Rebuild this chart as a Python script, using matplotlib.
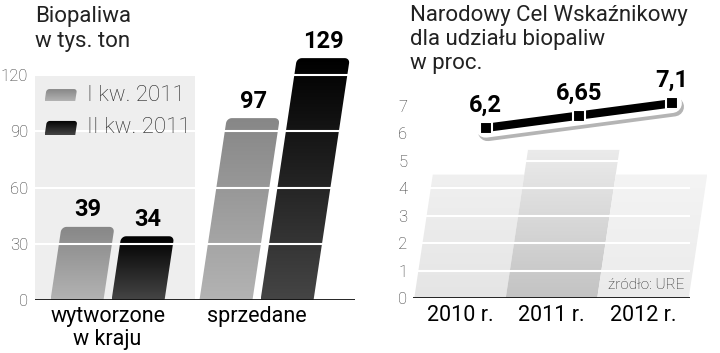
import numpy as np
import matplotlib
matplotlib.use('Agg')
import matplotlib.pyplot as plt
from matplotlib.patches import Polygon, Rectangle
from matplotlib.colors import LinearSegmentedColormap
from matplotlib import patheffects as pe
from matplotlib import font_manager

# dane - lewy wykres (tys. ton)
kategorie = ['wytworzone\nw kraju', 'sprzedane']
serie = ['I kw. 2011', 'II kw. 2011']
kw1 = [39, 97]
kw2 = [34, 129]
yt_lewy = [0, 30, 60, 90, 120]

# dane - prawy wykres (proc.)
lata = ['2010 r.', '2011 r.', '2012 r.']
ncw = [6.2, 6.65, 7.1]
ncw_etyk = ['6,2', '6,65', '7,1']
tlo = [4.5, 5.4, 4.5]
yt_prawy = [0, 1, 2, 3, 4, 5, 6, 7]

# czcionki
nazwy = {f.name for f in font_manager.fontManager.ttflist}
TXT = 'Roboto' if 'Roboto' in nazwy else 'DejaVu Sans'
BOLD = dict(family=TXT, fontweight='bold', fontsize=17)

W, H = 720, 353
fig = plt.figure(figsize=(W / 100, H / 100), dpi=100)

# pozycje osi w pikselach
axL = fig.add_axes([35 / W, 53 / H, 320 / W, 260 / H])
axR = fig.add_axes([413 / W, 55 / H, 277 / W, 258 / H])

xlimL = (-0.487, 1.661)
ylimL = (0, 260 / 1.875)
xlimR = (-0.514, 2.514)
ylimR = (0, 258 / 27.43)

# pochylenie: 0.15 px w poziomie na 1 px w pionie
sxL = 0.15 * (260 / ylimL[1]) / (320 / (xlimL[1] - xlimL[0]))
sxR = 0.15 * (258 / ylimR[1]) / (277 / (xlimR[1] - xlimR[0]))


def ksztalt(x0, w, h, sx, rx, ry, y0=0.0):
    t = np.linspace(np.pi, np.pi / 2, 8)
    pts = [(x0, y0)]
    for a in t:
        pts.append((x0 + rx + rx * np.cos(a), y0 + h - ry + ry * np.sin(a)))
    t = np.linspace(np.pi / 2, 0, 8)
    for a in t:
        pts.append((x0 + w - rx + rx * np.cos(a), y0 + h - ry + ry * np.sin(a)))
    pts.append((x0 + w, y0))
    pts = np.array(pts)
    pts[:, 0] += sx * (pts[:, 1] - y0)
    return pts


def wypelnij(ax, verts, c_gora, c_dol, z):
    poly = Polygon(verts, closed=True, facecolor='none', edgecolor='none')
    ax.add_patch(poly)
    grad = np.linspace(0, 1, 256).reshape(-1, 1)
    cmap = LinearSegmentedColormap.from_list('g', [c_gora, c_dol])
    im = ax.imshow(grad, cmap=cmap, aspect='auto', origin='upper',
                   extent=[verts[:, 0].min(), verts[:, 0].max(),
                           verts[:, 1].min(), verts[:, 1].max()],
                   zorder=z, interpolation='bilinear')
    im.set_clip_path(poly)
    im.set_clip_box(fig.bbox)


# ---------- lewy wykres ----------
axL.add_patch(Rectangle((xlimL[0], 0), 0.587 - xlimL[0], 120,
                        facecolor='#eeeeee', edgecolor='none', zorder=0))

szer = 53 / 149
odst = 0.205
rxL, ryL = 5 / 149, 5 / 1.875
kolory = [('#878787', '#b3b3b3'), ('#000000', '#454545')]
for s, wart in enumerate([kw1, kw2]):
    for i, v in enumerate(wart):
        xc = i + (odst if s else -odst)
        v_ = ksztalt(xc - szer / 2, szer, v, sxL, rxL, ryL)
        wypelnij(axL, v_, kolory[s][0], kolory[s][1], 2)
        axL.annotate(str(v), (xc + sxL * v, v), xytext=(0, 7.5),
                     textcoords='offset points', ha='center', va='baseline',
                     color='black', zorder=6, **BOLD)

for v in yt_lewy[1:]:
    axL.axhline(v, color='white', lw=1.5, zorder=3)
axL.axhline(0, color='#111111', lw=2, zorder=4)

# legenda
leg_y = [106.1, 88.0]
leg_h = [6.4, 7.5]
for s in range(2):
    v_ = ksztalt(-0.422, 0.205, leg_h[s], sxL, 3 / 149, 3 / 1.875, y0=leg_y[s])
    wypelnij(axL, v_, kolory[s][0], kolory[s][1], 5)
    axL.text(-0.138, leg_y[s] + leg_h[s] / 2, serie[s], fontsize=16,
             family=TXT, fontweight='light', color='#222222',
             va='center', ha='left', zorder=6)

axL.set_xlim(*xlimL)
axL.set_ylim(*ylimL)
axL.set_yticks(yt_lewy)
axL.set_yticklabels([str(v) for v in yt_lewy], family=TXT, fontweight='light')
axL.set_xticks(range(len(kategorie)))
axL.set_xticklabels(kategorie, family=TXT, fontsize=15.5, linespacing=1.15)
axL.tick_params(axis='y', length=0, pad=5, labelsize=12, labelcolor='#333333')
axL.tick_params(axis='x', length=0, pad=4, colors='black')
for sp in axL.spines.values():
    sp.set_visible(False)

# ---------- prawy wykres ----------
kol_tla = [('#f0f0f0', '#e5e5e5'), ('#ebebeb', '#c3c3c3'), ('#f4f4f4', '#ebebeb')]
for i, h in enumerate(tlo):
    v_ = ksztalt(i - 0.5, 1.0, h, sxR, 0, 0)
    wypelnij(axR, v_, kol_tla[i][0], kol_tla[i][1], 1)

for v in yt_prawy[1:6]:
    axR.axhline(v, color='white', lw=1.5, zorder=3)
axR.axhline(0, color='#111111', lw=2, zorder=4)

xs = [i + sxR * v for i, v in enumerate(ncw)]
axR.plot(xs, ncw, color='white', lw=14, solid_capstyle='round', zorder=5,
         path_effects=[pe.SimpleLineShadow(offset=(1.5, -2.5), shadow_color='#444444', alpha=0.4),
                       pe.Normal()])
axR.plot(xs, ncw, color='black', lw=6, solid_capstyle='butt', zorder=6)
axR.plot(xs, ncw, 's', ms=8, mfc='black', mec='white', mew=1.5, zorder=7)
for x, v, t in zip(xs, ncw, ncw_etyk):
    axR.annotate(t, (x, v), xytext=(0, 11.5), textcoords='offset points',
                 ha='center', va='baseline', color='black',
                 zorder=8, **BOLD)

axR.text(2.45, 0.22, 'źródło: URE', fontsize=11, family=TXT, fontweight='light',
         color='#222222', ha='right', va='bottom', zorder=8)

axR.set_xlim(*xlimR)
axR.set_ylim(*ylimR)
axR.set_yticks(yt_prawy)
axR.set_yticklabels([str(v) for v in yt_prawy], family=TXT, fontweight='light')
axR.set_xticks(range(len(lata)))
axR.set_xticklabels(lata, family=TXT, fontsize=15.5)
axR.tick_params(axis='y', length=0, pad=4, labelsize=12, labelcolor='#333333')
axR.tick_params(axis='x', length=0, pad=5, colors='black')
for sp in axR.spines.values():
    sp.set_visible(False)

# tytuly (kazda linia osobno)
tyt_lewy = ['Biopaliwa', 'w tys. ton']
tyt_prawy = ['Narodowy Cel Wskaźnikowy', 'dla udziału biopaliw', 'w proc.']
for k, t in enumerate(tyt_lewy):
    fig.text(35 / W, 1 - (22 + 25 * k) / H, t, family=TXT, fontsize=16,
             color='#222222', va='baseline', ha='left')
for k, t in enumerate(tyt_prawy):
    fig.text(410 / W, 1 - (21 + 24 * k) / H, t, family=TXT, fontsize=16,
             color='#222222', va='baseline', ha='left')

fig.savefig('out.png', dpi=100, facecolor='white')
